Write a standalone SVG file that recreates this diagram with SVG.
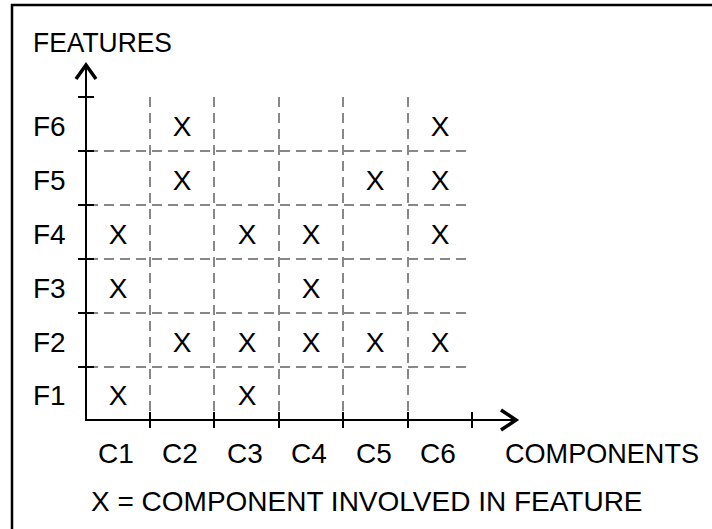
<svg xmlns="http://www.w3.org/2000/svg" width="712" height="529" viewBox="0 0 712 529">
<style>
text{font-family:"Liberation Sans",Arial,sans-serif;font-size:28px;fill:#000}
.m{text-anchor:middle}
.ax{stroke:#000;stroke-width:2;fill:none}
.tk{stroke:#000;stroke-width:2}
.g{stroke:#888;stroke-width:2;stroke-dasharray:10 6;fill:none}
.ah{stroke:#000;stroke-width:3.5;fill:none;stroke-linecap:butt;stroke-linejoin:miter}
</style>
<rect x="12" y="5" width="720" height="540" fill="#fff" stroke="#000" stroke-width="2.5"/>
<g id="grid">
<path class="g" d="M88 151H466M88 205H466M88 259H466M88 313H466M88 367H466"/>
<path class="g" d="M150 97V420M214 97V420M279 97V420M343 97V420M408 97V420"/>
</g>
<g id="axes">
<path class="ax" d="M86 421V64M85 420H517"/>
<path class="tk" d="M78 97H94M78 151H94M78 205H94M78 259H94M78 313H94M78 367H94"/>
<path class="tk" d="M150 412V428M214 412V428M279 412V428M343 412V428M408 412V428M472 412V428"/>
<path class="ah" d="M76 79L86 65L96 79"/>
<path class="ah" d="M501 410L516 420L501 430"/>
</g>
<g id="labels">
<text x="33" y="52" textLength="139" lengthAdjust="spacingAndGlyphs">FEATURES</text>
<text x="33" y="136">F6</text>
<text x="33" y="190">F5</text>
<text x="33" y="244">F4</text>
<text x="33" y="298">F3</text>
<text x="33" y="352">F2</text>
<text x="33" y="405">F1</text>
<text class="m" x="116" y="463">C1</text>
<text class="m" x="180" y="463">C2</text>
<text class="m" x="245" y="463">C3</text>
<text class="m" x="309" y="463">C4</text>
<text class="m" x="374" y="463">C5</text>
<text class="m" x="438" y="463">C6</text>
<text x="505" y="463" textLength="194" lengthAdjust="spacingAndGlyphs">COMPONENTS</text>
<text x="91" y="511">X = COMPONENT INVOLVED IN FEATURE</text>
</g>
<g id="marks" class="m">
<text class="m" x="182" y="136">X</text>
<text class="m" x="440" y="136">X</text>
<text class="m" x="182" y="190">X</text>
<text class="m" x="375" y="190">X</text>
<text class="m" x="440" y="190">X</text>
<text class="m" x="118" y="244">X</text>
<text class="m" x="247" y="244">X</text>
<text class="m" x="311" y="244">X</text>
<text class="m" x="440" y="244">X</text>
<text class="m" x="118" y="298">X</text>
<text class="m" x="311" y="298">X</text>
<text class="m" x="182" y="352">X</text>
<text class="m" x="247" y="352">X</text>
<text class="m" x="311" y="352">X</text>
<text class="m" x="375" y="352">X</text>
<text class="m" x="440" y="352">X</text>
<text class="m" x="118" y="405">X</text>
<text class="m" x="247" y="405">X</text>
</g>
</svg>
